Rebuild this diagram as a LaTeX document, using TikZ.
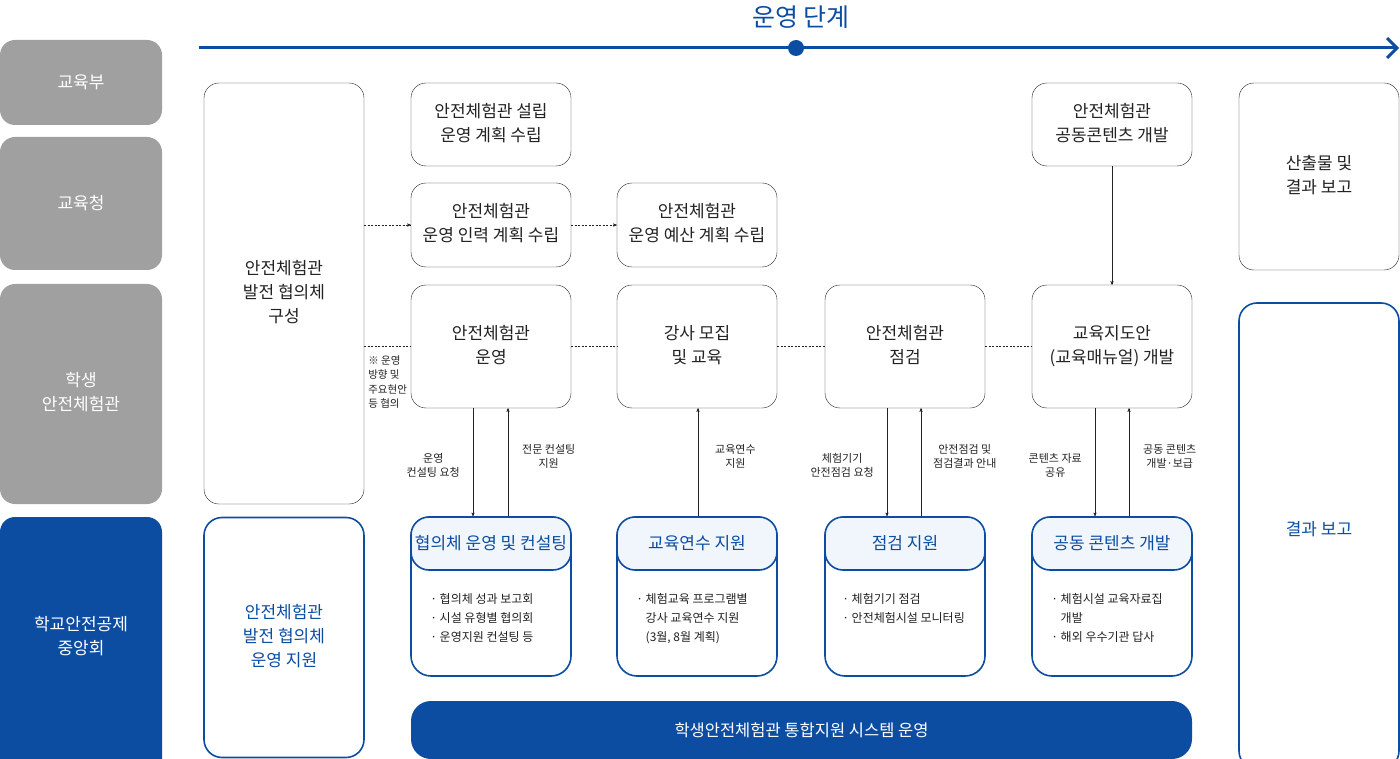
\documentclass[tikz,border=0pt]{standalone}
\usepackage{fontspec}
\setmainfont{Noto Sans CJK KR}
\usepackage{tikz}
\usetikzlibrary{arrows}
\definecolor{kblue}{HTML}{0C4DA2}
\definecolor{kgray}{HTML}{A0A0A0}
\definecolor{klight}{HTML}{F1F6FD}
\definecolor{kink}{HTML}{222222}

\begin{document}
\begin{tikzpicture}[->,>=stealth',semithick,
                    x=1pt,y=-1pt,
                    every node/.style={inner sep=0pt,text=kink},
                    big/.style={font=\fontsize{17}{24}\selectfont},
                    small/.style={font=\fontsize{11}{14}\selectfont},
                    list/.style={font=\fontsize{12}{19}\selectfont,anchor=west},
                    side/.style={fill=kgray,rounded corners=15pt,text=white,
                                 minimum width=162pt,big},
                    box/.style={draw=kink,thin,rounded corners=15pt,
                                minimum width=160pt,big},
                    bluebox/.style={draw=kblue,line width=1.6pt,rounded corners=18pt,
                                    minimum width=160pt,text=kblue,big},
                    card/.style={draw=kblue,line width=1.6pt,fill=white,
                                 rounded corners=20pt,minimum width=160pt,
                                 minimum height=159pt},
                    cardhead/.style={draw=kblue,line width=1.6pt,fill=klight,
                                     rounded corners=18pt,minimum width=160pt,
                                     minimum height=53pt,text=kblue,big},
                    link/.style={-,thin,kink,dash pattern=on 2pt off 1.5pt},
                    flow/.style={thin,kink}]

\useasboundingbox (0,0) rectangle (1400,759);

% timeline
\node[text=kblue,font=\fontsize{25}{28}\selectfont] (STAGE) at (801,17) {운영 단계};
\coordinate (T0) at (199,48);
\coordinate (T1) at (1397,48);
\draw[-,kblue,line width=3pt] (T0) -- (T1);
\draw[-,kblue,line width=3pt,line join=miter]
      ([shift={(-10,-10)}]T1) -- (T1) -- ([shift={(-10,10)}]T1);
\node[circle,fill=kblue,minimum size=16pt] (NOW) at (796,48) {};

% left column
\draw node[side,minimum height=85pt]  (MOE)    at (81,82.5)  {교육부}
      node[side,minimum height=133pt] (OFFICE) at (81,203.5) {교육청}
      node[side,minimum height=220pt] (CENTER) at (81,394)
            {\begin{tabular}{c}학생\\안전체험관\end{tabular}}
      node[side,fill=kblue,minimum height=262pt] (KSSIF) at (81,648) {};
\node[big,text=white] (KSSIFL) at (81,638)
            {\begin{tabular}{c}학교안전공제\\중앙회\end{tabular}};

% council column
\draw node[box,minimum height=421pt] (COUNCIL) at (284,293.5)
            {\begin{tabular}{c}안전체험관\\발전 협의체\\구성\end{tabular}}
      node[bluebox,minimum height=240pt] (SUPPORT) at (284,637.5)
            {\begin{tabular}{c}안전체험관\\발전 협의체\\운영 지원\end{tabular}};

% stage boxes
\draw node[box,minimum height=83pt] (PLAN) at (491,124.5)
            {\begin{tabular}{c}안전체험관 설립\\운영 계획 수립\end{tabular}}
      node[box,minimum height=84pt] (STAFF) at (491,225)
            {\begin{tabular}{c}안전체험관\\운영 인력 계획 수립\end{tabular}}
      node[box,minimum height=84pt] (BUDGET) at (697,225)
            {\begin{tabular}{c}안전체험관\\운영 예산 계획 수립\end{tabular}}
      node[box,minimum height=83pt] (CONTENT) at (1112,124.5)
            {\begin{tabular}{c}안전체험관\\공동콘텐츠 개발\end{tabular}}
      node[box,minimum height=187pt] (REPORT) at (1319,176.5)
            {\begin{tabular}{c}산출물 및\\결과 보고\end{tabular}};

\draw node[box,minimum height=123pt] (RUN) at (491,346.5)
            {\begin{tabular}{c}안전체험관\\운영\end{tabular}}
      node[box,minimum height=123pt] (HIRE) at (697,346.5)
            {\begin{tabular}{c}강사 모집\\및 교육\end{tabular}}
      node[box,minimum height=123pt] (CHECK) at (905,346.5)
            {\begin{tabular}{c}안전체험관\\점검\end{tabular}}
      node[box,minimum height=123pt] (GUIDE) at (1112,346.5)
            {\begin{tabular}{c}교육지도안\\(교육매뉴얼) 개발\end{tabular}};

\draw node[bluebox,minimum height=466pt] (RESULT) at (1319,536) {};
\node[big,text=kblue] (RESULTL) at (1319,529) {결과 보고};

% support cards
\node[card] (CONSULT) at (491,596.5) {};
\node[cardhead] (CONSULTH) at (491,543.5) {협의체 운영 및 컨설팅};
\node[list] (CONSULTL) at (430,619)
      {\begin{tabular}{@{}l@{}}· 협의체 성과 보고회\\· 시설 유형별 협의회\\· 운영지원 컨설팅 등\end{tabular}};

\node[card] (TRAIN) at (697,596.5) {};
\node[cardhead] (TRAINH) at (697,543.5) {교육연수 지원};
\node[list] (TRAINL) at (636,619)
      {\begin{tabular}{@{}l@{}}· 체험교육 프로그램별\\\phantom{· }강사 교육연수 지원\\\phantom{· }(3월, 8월 계획)\end{tabular}};

\node[card] (INSPECT) at (905,596.5) {};
\node[cardhead] (INSPECTH) at (905,543.5) {점검 지원};
\node[list] (INSPECTL) at (842,609.5)
      {\begin{tabular}{@{}l@{}}· 체험기기 점검\\· 안전체험시설 모니터링\end{tabular}};

\node[card] (SHARE) at (1112,596.5) {};
\node[cardhead] (SHAREH) at (1112,543.5) {공동 콘텐츠 개발};
\node[list] (SHAREL) at (1051,619)
      {\begin{tabular}{@{}l@{}}· 체험시설 교육자료집\\\phantom{· }개발\\· 해외 우수기관 답사\end{tabular}};

\node[fill=kblue,rounded corners=20pt,minimum width=781pt,minimum height=58pt,
      text=white,font=\fontsize{16.5}{24}\selectfont] (SYSTEM) at (801.5,730)
      {학생안전체험관 통합지원 시스템 운영};

% dashed links
\draw[link,->] (STAFF.west -| COUNCIL.east) -- (STAFF.west);
\draw[link,->] (STAFF.east) -- (BUDGET.west);
\path (RUN.west -| COUNCIL.east) edge[link] (RUN.west)
      (RUN.east) edge[link] (HIRE.west)
      (HIRE.east) edge[link] (CHECK.west)
      (CHECK.east) edge[link] (GUIDE.west);
\node[anchor=north west,font=\fontsize{10.5}{14.5}\selectfont] (NOTE) at (368,354)
      {\begin{tabular}{@{}l@{}}※ 운영\\방향 및\\주요현안\\등 협의\end{tabular}};

% vertical flows
\draw[flow] (CONTENT) -- (GUIDE);

\draw[flow] ([xshift=-18pt]RUN.south) -- node[small,left=7pt,yshift=-4.5pt]
      {\begin{tabular}{c}운영\\컨설팅 요청\end{tabular}} ([xshift=-18pt]CONSULT.north);
\draw[flow] ([xshift=17pt]CONSULT.north) -- node[small,right=8pt,yshift=4.5pt]
      {\begin{tabular}{c}전문 컨설팅\\지원\end{tabular}} ([xshift=17pt]RUN.south);

\draw[flow] ([xshift=1pt]TRAIN.north) -- node[small,right=11pt,yshift=4.5pt]
      {\begin{tabular}{c}교육연수\\지원\end{tabular}} ([xshift=1pt]HIRE.south);

\draw[flow] ([xshift=-18pt]CHECK.south) -- node[small,left=7pt,yshift=-4.5pt]
      {\begin{tabular}{c}체험기기\\안전점검 요청\end{tabular}} ([xshift=-18pt]INSPECT.north);
\draw[flow] ([xshift=16pt]INSPECT.north) -- node[small,right=6pt,yshift=4.5pt]
      {\begin{tabular}{c}안전점검 및\\점검결과 안내\end{tabular}} ([xshift=16pt]CHECK.south);

\draw[flow] ([xshift=-17pt]GUIDE.south) -- node[small,left=7pt,yshift=-4.5pt]
      {\begin{tabular}{c}콘텐츠 자료\\공유\end{tabular}} ([xshift=-17pt]SHARE.north);
\draw[flow] ([xshift=17pt]SHARE.north) -- node[small,right=8pt,yshift=4.5pt]
      {\begin{tabular}{c}공동 콘텐츠\\개발·보급\end{tabular}} ([xshift=17pt]GUIDE.south);

\end{tikzpicture}
\end{document}
